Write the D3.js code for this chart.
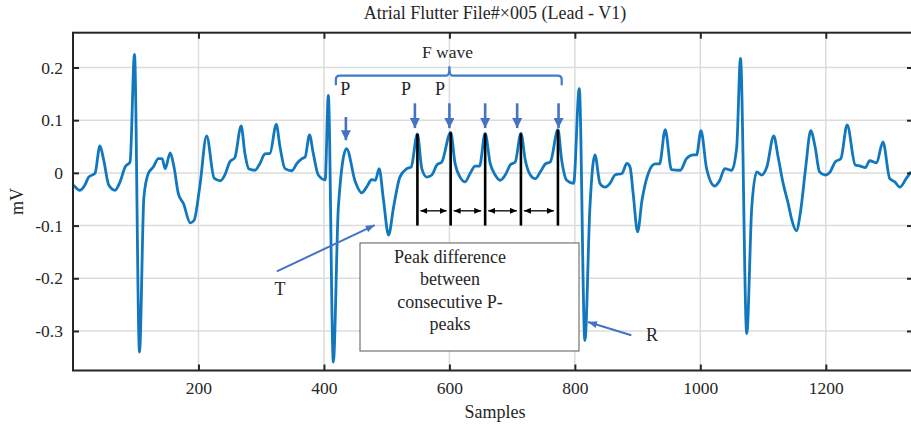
<!DOCTYPE html>
<html>
<head>
<meta charset="utf-8">
<script src="https://cdn.jsdelivr.net/npm/d3@7"></script>
<style>
  html, body { margin: 0; padding: 0; background: #fff; }
  svg { display: block; }
  text { font-family: "Liberation Serif", "DejaVu Serif", serif; fill: #262626; }
</style>
</head>
<body>
<div id="chart"></div>
<script>
// ---------------- DATA ----------------
const samples = [1, 11, 19, 25, 35, 43, 49, 57, 67, 75, 83, 91, 98, 106, 113, 120, 128, 136, 142, 147,
  155, 161, 168, 176, 187, 193, 202, 213, 225, 235, 242, 250, 258, 268, 274, 280, 290, 298, 306, 314,
  324, 330, 338, 349, 357, 365, 370, 377, 383, 391, 402, 407, 415, 423, 436, 450, 460, 468, 476, 482,
  488, 495, 503, 511, 521, 532, 539, 549, 556, 564, 572, 580, 588, 602, 609, 617, 625, 633, 641, 648,
  657, 665, 673, 681, 689, 697, 705, 714, 721, 729, 737, 745, 753, 761, 773, 779, 787, 798, 807, 816,
  824, 832, 840, 848, 856, 864, 875, 883, 888, 893, 900, 907, 917, 928, 935, 944, 954, 968, 978, 989,
  994, 1001, 1010, 1023, 1031, 1039, 1050, 1058, 1064, 1074, 1082, 1090, 1098, 1106, 1117, 1124, 1132,
  1140, 1146, 1153, 1160, 1168, 1176, 1183, 1190, 1199, 1207, 1215, 1224, 1234, 1247, 1255, 1263, 1270,
  1281, 1291, 1302, 1310, 1318, 1328, 1336];
const mv = [-0.023, -0.033, -0.023, -0.008, -0.001, 0.051, 0.024, -0.023, -0.033, -0.017, 0.011, 0.021, 0.225, -0.340, -0.046, -0.001, 0.011, 0.027, 0.027, 0.008,
  0.038, 0.011, -0.040, -0.058, -0.095, -0.090, -0.027, 0.070, -0.010, -0.015, -0.004, 0.021, 0.029, 0.089, 0.037, 0.008, 0.005, 0.018, 0.036, 0.037,
  0.092, 0.049, 0.008, 0.004, 0.018, 0.027, 0.030, 0.072, 0.037, -0.004, -0.013, 0.147, -0.359, -0.065, 0.046, -0.017, -0.038, -0.027, -0.013, -0.014,
  0.008, -0.052, -0.118, -0.065, -0.008, 0.008, 0.011, 0.074, 0.008, -0.008, -0.004, 0.015, 0.021, 0.077, 0.018, -0.008, -0.017, -0.001, 0.013, 0.013,
  0.075, 0.018, -0.004, -0.014, -0.004, 0.015, 0.021, 0.075, 0.024, -0.004, -0.011, 0.002, 0.017, 0.021, 0.082, 0.024, -0.014, -0.020, 0.160, -0.318,
  -0.065, 0.034, -0.020, -0.027, -0.020, -0.004, -0.001, 0.018, 0.011, -0.040, -0.112, -0.052, -0.001, 0.017, 0.017, 0.082, 0.006, 0.005, 0.027, 0.034,
  0.034, 0.080, 0.008, -0.025, -0.014, 0.008, 0.005, 0.049, 0.217, -0.305, -0.065, 0.002, -0.004, 0.011, 0.070, 0.030, -0.020,
  -0.058, -0.090, -0.110, -0.071, 0.011, 0.080, 0.049, 0.002, -0.004, 0.002, 0.021, 0.027, 0.091, 0.015, 0.013, 0.010, 0.023,
  0.019, 0.059, -0.011, -0.017, -0.027, -0.011, 0.002];

const xTicks = [200, 400, 600, 800, 1000, 1200];
const yTicks = [-0.3, -0.2, -0.1, 0, 0.1, 0.2];
const yTickLabels = ["-0.3", "-0.2", "-0.1", "0", "0.1", "0.2"];

const titleText = "Atrial Flutter File#\u00d7005 (Lead - V1)";
const xLabel = "Samples";
const yLabel = "mV";

// annotations (data coordinates)
const pPeakSamples = [549, 602, 657, 714, 773];   // black vertical markers
const pPeakBottom = -0.10;
const pArrowSamples = [435, 545, 600, 657, 708, 774];
const pArrowTop = [0.106, 0.132, 0.132, 0.132, 0.132, 0.132];
const pArrowTip = [0.062, 0.085, 0.085, 0.085, 0.085, 0.085];
const pLabelSamples = [434, 531, 585];
const pLabelValue = 0.159;
const diffArrowValue = -0.072;
const bracket = { x0: 419, x1: 779, xc: 600, yLine: 0.1844, yEnd: 0.1664, yBump: 0.2025 };
const fWaveLabel = { s: 597, v: 0.229, text: "F wave" };
const tLabel = { s: 330, v: -0.221, from: [325, -0.187], to: [481, -0.099], text: "T" };
const rLabel = { s: 923, v: -0.308, from: [890, -0.308], to: [821, -0.283], text: "R" };
const boxArea = { s0: 457.5, s1: 806.6, v0: -0.133, v1: -0.338, textS: 601 };
const boxLines = ["Peak difference", "between", "consecutive P-", "peaks"];

// ---------------- LAYOUT ----------------
const W = 911, H = 428;
const L = 73, R = 913, T = 32.7, B = 370.5;

const svg = d3.select("#chart").append("svg").attr("width", W).attr("height", H);

const x = d3.scaleLinear().domain([0, 1339]).range([L, R]);
const y = d3.scaleLinear().domain([-0.375, 0.266]).range([B, T]);

const defs = svg.append("defs");
defs.append("clipPath").attr("id", "clip").append("rect")
  .attr("x", L).attr("y", T).attr("width", R - L).attr("height", B - T);

function marker(id, color, w, h) {
  defs.append("marker").attr("id", id)
    .attr("viewBox", `0 0 ${w} ${h}`)
    .attr("refX", w).attr("refY", h / 2)
    .attr("markerWidth", w).attr("markerHeight", h)
    .attr("markerUnits", "userSpaceOnUse")
    .attr("orient", "auto-start-reverse")
    .append("path").attr("d", `M0,0 L${w},${h / 2} L0,${h} Z`).attr("fill", color);
}
marker("blueHead", "#4472c4", 10, 10);
marker("blueHeadSmall", "#4472c4", 9, 7);
marker("blackHead", "#000", 7, 6);

// grid
const grid = svg.append("g");
grid.selectAll(".gx").data(xTicks).join("line")
  .attr("x1", d => x(d)).attr("x2", d => x(d)).attr("y1", T).attr("y2", B)
  .attr("stroke", "#dcdcdc").attr("stroke-width", 1.5);
grid.selectAll(".gy").data(yTicks).join("line")
  .attr("x1", L).attr("x2", R).attr("y1", d => y(d)).attr("y2", d => y(d))
  .attr("stroke", "#dcdcdc").attr("stroke-width", 1.5);

// signal
const pts = samples.map((s, i) => [s, mv[i]]);
const line = d3.line().x(d => x(d[0])).y(d => y(d[1])).curve(d3.curveMonotoneX);
svg.append("path").datum(pts).attr("clip-path", "url(#clip)")
  .attr("d", line).attr("fill", "none").attr("stroke", "#1177bf")
  .attr("stroke-width", 2.8).attr("stroke-linejoin", "round");

// axes frame + inward ticks
const axisG = svg.append("g");
const bottomAxis = d3.axisBottom(x).tickValues(xTicks).tickSize(-6).tickPadding(11).tickFormat(d3.format("d"));
const topAxis = d3.axisTop(x).tickValues(xTicks).tickSize(-6).tickFormat("");
const leftAxis = d3.axisLeft(y).tickValues(yTicks).tickSize(-6).tickPadding(10)
  .tickFormat((d, i) => yTickLabels[i]);
const rightAxis = d3.axisRight(y).tickValues(yTicks).tickSize(-6).tickFormat("");

function styleAxis(g) {
  g.select(".domain").remove();
  g.selectAll(".tick line").attr("stroke", "#262626").attr("stroke-width", 2);
  g.selectAll(".tick text").style("font-family", "'Liberation Serif', serif")
    .style("font-size", "17.5px").attr("fill", "#262626");
}
axisG.append("g").attr("transform", `translate(0,${B})`).call(bottomAxis).call(styleAxis);
axisG.append("g").attr("transform", `translate(0,${T})`).call(topAxis).call(styleAxis);
axisG.append("g").attr("transform", `translate(${L},0)`).call(leftAxis).call(styleAxis);
axisG.append("g").attr("transform", `translate(${R},0)`).call(rightAxis).call(styleAxis);
axisG.append("rect").attr("x", L).attr("y", T).attr("width", R - L).attr("height", B - T)
  .attr("fill", "none").attr("stroke", "#262626").attr("stroke-width", 2);

// titles
svg.append("text").attr("x", 495).attr("y", 19).attr("text-anchor", "middle")
  .style("font-size", "18px").text(titleText);
svg.append("text").attr("x", 495).attr("y", 418).attr("text-anchor", "middle")
  .style("font-size", "18px").text(xLabel);
svg.append("text").attr("transform", `translate(23,${(T + B) / 2}) rotate(-90)`)
  .attr("text-anchor", "middle").style("font-size", "18px").text(yLabel);

// ---------------- ANNOTATIONS ----------------
const ann = svg.append("g");

// F wave bracket
{
  const bx0 = x(bracket.x0), bx1 = x(bracket.x1), bxc = x(bracket.xc);
  const yl = y(bracket.yLine), ye = y(bracket.yEnd), yb = y(bracket.yBump);
  const r = 4;
  const p = d3.path();
  p.moveTo(bx0, ye);
  p.lineTo(bx0, yl + r);
  p.quadraticCurveTo(bx0, yl, bx0 + r, yl);
  p.lineTo(bxc - 3, yl);
  p.quadraticCurveTo(bxc, yl, bxc, yb);
  p.quadraticCurveTo(bxc, yl, bxc + 3, yl);
  p.lineTo(bx1 - r, yl);
  p.quadraticCurveTo(bx1, yl, bx1, yl + r);
  p.lineTo(bx1, ye);
  ann.append("path").attr("d", p.toString()).attr("fill", "none")
    .attr("stroke", "#3d7cc9").attr("stroke-width", 2.2);
}
ann.append("text").attr("x", x(fWaveLabel.s)).attr("y", y(fWaveLabel.v))
  .attr("dominant-baseline", "central").attr("text-anchor", "middle")
  .style("font-size", "17.5px").text(fWaveLabel.text);

// P labels
ann.selectAll(".plab").data(pLabelSamples).join("text")
  .attr("x", d => x(d)).attr("y", y(pLabelValue))
  .attr("dominant-baseline", "central").attr("text-anchor", "middle")
  .style("font-size", "18px").text("P");

// P arrows
ann.selectAll(".parr").data(pArrowSamples).join("line")
  .attr("x1", d => x(d)).attr("x2", d => x(d))
  .attr("y1", (d, i) => y(pArrowTop[i])).attr("y2", (d, i) => y(pArrowTip[i]))
  .attr("stroke", "#4472c4").attr("stroke-width", 2.6)
  .attr("marker-end", "url(#blueHead)");

// black vertical lines at P peaks
const peakVal = s => mv[samples.indexOf(s)];
ann.selectAll(".pk").data(pPeakSamples).join("line")
  .attr("x1", d => x(d)).attr("x2", d => x(d))
  .attr("y1", d => y(peakVal(d))).attr("y2", y(pPeakBottom))
  .attr("stroke", "#000").attr("stroke-width", 2.6);

// double-headed arrows between consecutive peaks
const pairs = d3.pairs(pPeakSamples);
ann.selectAll(".dd").data(pairs).join("line")
  .attr("x1", d => x(d[0]) + 3).attr("x2", d => x(d[1]) - 4)
  .attr("y1", y(diffArrowValue)).attr("y2", y(diffArrowValue))
  .attr("stroke", "#000").attr("stroke-width", 1.3)
  .attr("marker-start", "url(#blackHead)").attr("marker-end", "url(#blackHead)");

// T and R labels with arrows
[tLabel, rLabel].forEach(o => {
  ann.append("line")
    .attr("x1", x(o.from[0])).attr("y1", y(o.from[1]))
    .attr("x2", x(o.to[0])).attr("y2", y(o.to[1]))
    .attr("stroke", "#4472c4").attr("stroke-width", 2)
    .attr("marker-end", "url(#blueHeadSmall)");
  ann.append("text").attr("x", x(o.s)).attr("y", y(o.v))
    .attr("dominant-baseline", "central").attr("text-anchor", "middle")
    .style("font-size", "18px").text(o.text);
});

// text box
ann.append("rect")
  .attr("x", x(boxArea.s0)).attr("y", y(boxArea.v0))
  .attr("width", x(boxArea.s1) - x(boxArea.s0)).attr("height", y(boxArea.v1) - y(boxArea.v0))
  .attr("fill", "#fff").attr("stroke", "#595959").attr("stroke-width", 1);
ann.selectAll(".bl").data(boxLines).join("text")
  .attr("x", x(boxArea.textS)).attr("y", (d, i) => y(boxArea.v0) + 14 + i * 22.5)
  .attr("dominant-baseline", "central").attr("text-anchor", "middle")
  .style("font-size", "18px").text(d => d);
</script>
</body>
</html>
